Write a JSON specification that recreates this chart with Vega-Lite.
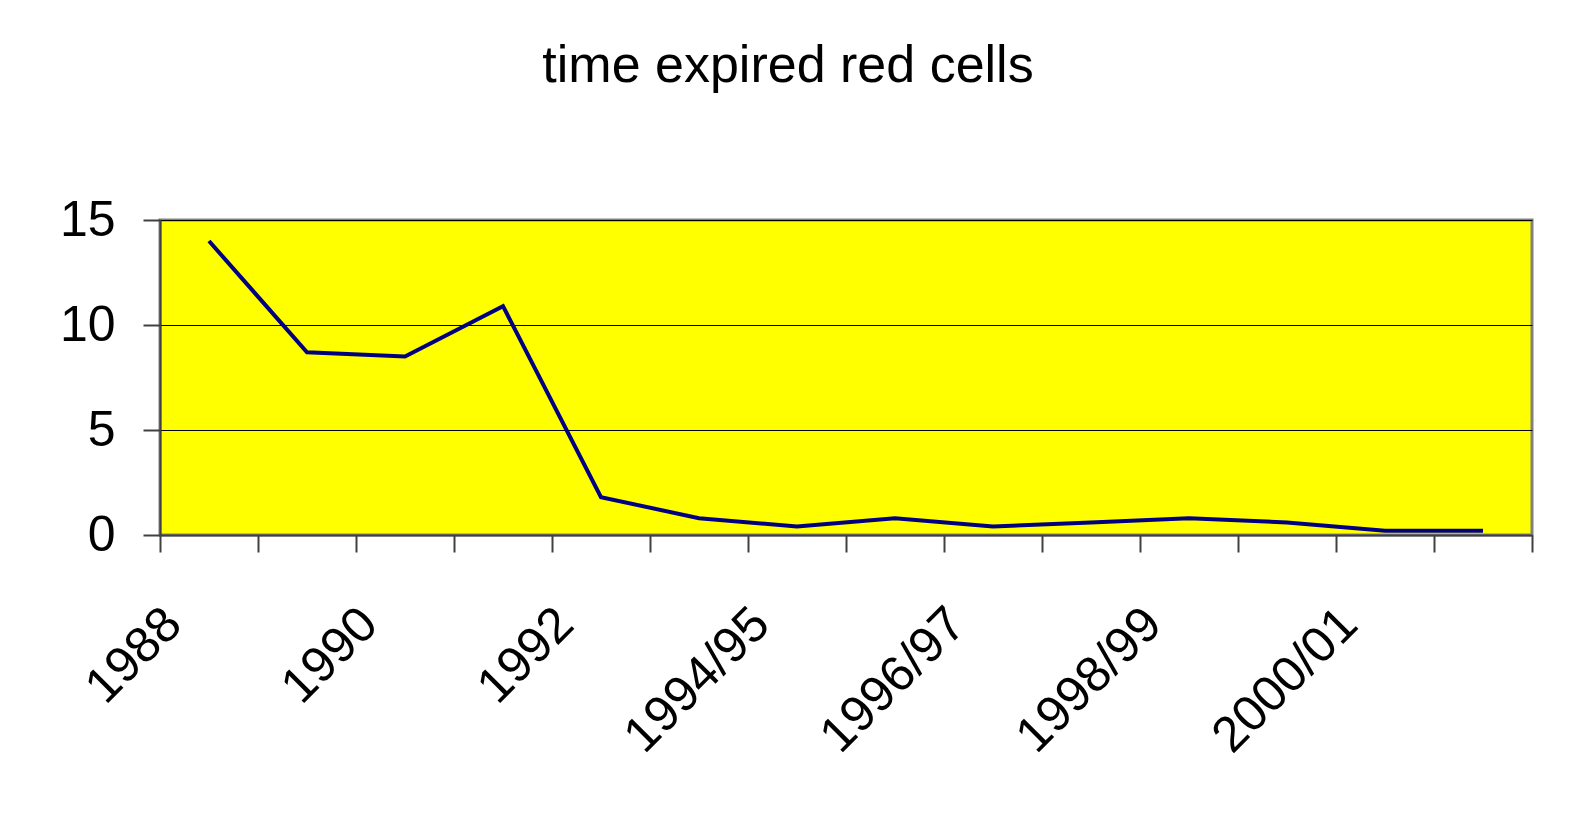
{
  "$schema": "https://vega.github.io/schema/vega-lite/v6.json",
  "autosize": "none",
  "width": 1372,
  "height": 315,
  "padding": {"left": 160, "top": 220, "right": 40, "bottom": 288},
  "background": "white",
  "title": {
    "text": "time expired red cells",
    "fontSize": 52,
    "font": "Liberation Sans",
    "fontWeight": "normal",
    "color": "black",
    "letterSpacing": 1.2,
    "anchor": "middle",
    "dx": -58,
    "offset": 102
  },
  "config": {
    "view": {"fill": "#FFFF00", "stroke": "#808080", "strokeWidth": 3},
    "font": "Liberation Sans"
  },
  "data": {
    "values": [
      {"period": "1988", "value": 14},
      {"period": "1989", "value": 8.7},
      {"period": "1990", "value": 8.5},
      {"period": "1991", "value": 10.9},
      {"period": "1992", "value": 1.8},
      {"period": "1993/94", "value": 0.8},
      {"period": "1994/95", "value": 0.4},
      {"period": "1995/96", "value": 0.8},
      {"period": "1996/97", "value": 0.4},
      {"period": "1997/98", "value": 0.6},
      {"period": "1998/99", "value": 0.8},
      {"period": "1999/00", "value": 0.6},
      {"period": "2000/01", "value": 0.2},
      {"period": "2001/02", "value": 0.2}
    ]
  },
  "mark": {"type": "line", "color": "#000080", "strokeWidth": 4},
  "encoding": {
    "x": {
      "field": "period",
      "type": "ordinal",
      "sort": null,
      "bandPosition": 0.5,
      "scale": {"type": "band", "paddingInner": 0, "paddingOuter": 0},
      "axis": {
        "title": null,
        "grid": false,
        "tickBand": "extent",
        "domainColor": "#404040",
        "domainWidth": 2,
        "tickColor": "#404040",
        "tickWidth": 2,
        "tickSize": 17,
        "labelAngle": -45,
        "labelAlign": "right",
        "labelBaseline": "middle",
        "labelFontSize": 50,
        "labelColor": "black",
        "labelPadding": 64,
        "labelOffset": -36,
        "labelLimit": 0,
        "labelOverlap": false,
        "labelExpr": "indexof(['1988','1990','1992','1994/95','1996/97','1998/99','2000/01'], datum.label) >= 0 ? datum.label : ''"
      }
    },
    "y": {
      "field": "value",
      "type": "quantitative",
      "scale": {"domain": [0, 15], "nice": false},
      "axis": {
        "title": null,
        "values": [0, 5, 10, 15],
        "grid": true,
        "gridColor": "black",
        "gridWidth": 1,
        "domainColor": "#404040",
        "domainWidth": 2,
        "tickColor": "#404040",
        "tickWidth": 2,
        "tickSize": 17,
        "labelFontSize": 50,
        "labelColor": "black",
        "labelPadding": 28
      }
    }
  }
}
